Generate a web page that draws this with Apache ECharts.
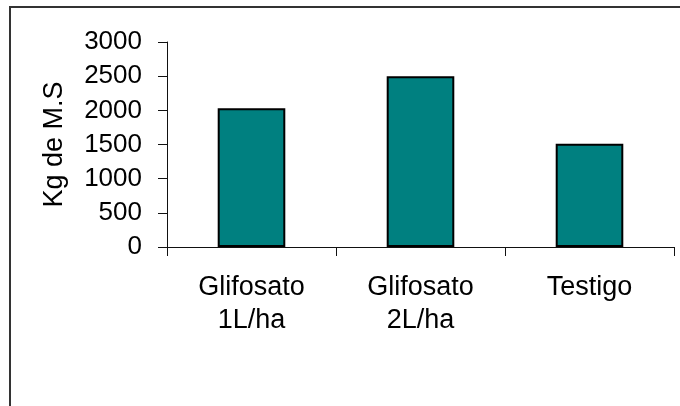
<!DOCTYPE html>
<html>
<head>
<meta charset="utf-8">
<script src="https://cdn.jsdelivr.net/npm/echarts@6/dist/echarts.min.js"></script>
<style>html,body{margin:0;padding:0;background:#fff;}#c{width:680px;height:406px;}</style>
</head>
<body>
<div id="c"></div>
<script>
var categories = ['Glifosato\n1L/ha', 'Glifosato\n2L/ha', 'Testigo'];
var values = [2030, 2500, 1510];
var yAxisName = 'Kg de M.S';
var yMin = 0, yMax = 3000, yInterval = 500;

var chart = echarts.init(document.getElementById('c'), null, {renderer: 'canvas'});
chart.setOption({
  animation: false,
  backgroundColor: '#ffffff',
  textStyle: {fontFamily: 'Liberation Sans, Arial, sans-serif'},
  grid: {left: 167, right: 6, top: 42, bottom: 159, containLabel: false},
  graphic: [{
    type: 'rect',
    shape: {x: 10, y: 7, width: 720, height: 450},
    style: {fill: 'none', stroke: '#333', lineWidth: 2},
    silent: true
  }],
  xAxis: {
    type: 'category',
    data: categories,
    boundaryGap: true,
    axisLine: {show: true, lineStyle: {color: '#111', width: 1}},
    axisTick: {show: true, length: 9, lineStyle: {color: '#111', width: 1}},
    axisLabel: {color: '#000', fontSize: 27, lineHeight: 33, margin: 24, interval: 0,
      fontFamily: 'Liberation Sans, Arial, sans-serif'},
    splitLine: {show: false}
  },
  yAxis: {
    type: 'value',
    min: yMin, max: yMax, interval: yInterval,
    name: yAxisName,
    nameLocation: 'middle',
    nameGap: 99,
    nameTextStyle: {color: '#000', fontSize: 27, fontFamily: 'Liberation Sans, Arial, sans-serif'},
    axisLine: {show: true, lineStyle: {color: '#111', width: 1}},
    axisTick: {show: true, length: 9, lineStyle: {color: '#111', width: 1}},
    axisLabel: {color: '#000', fontSize: 26, margin: 25,
      formatter: function (v) { return String(v); },
      fontFamily: 'Liberation Sans, Arial, sans-serif'},
    splitLine: {show: false}
  },
  series: [{
    type: 'bar',
    data: values,
    barWidth: '40%',
    itemStyle: {color: '#008080', borderColor: '#000', borderWidth: 2}
  }]
});
</script>
</body>
</html>
